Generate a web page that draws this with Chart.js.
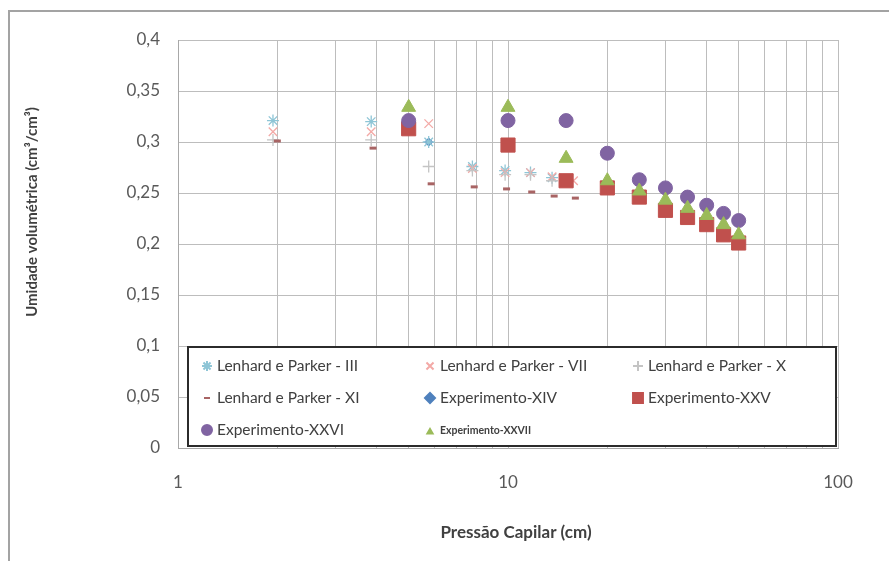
<!DOCTYPE html>
<html>
<head>
<meta charset="utf-8">
<script src="https://cdn.jsdelivr.net/npm/chart.js@4/dist/chart.umd.min.js"></script>
<style>
html,body{margin:0;padding:0;background:#fff;}
#wrap{position:relative;width:889px;height:561px;}
</style>
</head>
<body>
<div id="wrap"><canvas id="c" width="889" height="561"></canvas></div>
<script>
// ---- data ----
const seriesNames = ["Lenhard e Parker - III","Lenhard e Parker - VII","Lenhard e Parker - X","Lenhard e Parker - XI","Experimento-XIV","Experimento-XXV","Experimento-XXVI","Experimento-XXVII"];

const lp3X = [1.94, 3.85, 5.75, 7.8, 9.8, 11.7, 13.6];
const lp3Y = [0.321, 0.320, 0.300, 0.276, 0.272, 0.270, 0.265];

const lp7X = [1.94, 3.85, 5.75, 7.8, 9.8, 11.7, 13.6, 15.8];
const lp7Y = [0.310, 0.310, 0.318, 0.274, 0.270, 0.270, 0.266, 0.262];

const lp10X = [1.94, 3.85, 5.75, 7.8, 9.8, 11.7, 13.6];
const lp10Y = [0.302, 0.302, 0.276, 0.272, 0.268, 0.268, 0.262];

const lp11X = [2.0, 3.9, 5.85, 7.9, 9.9, 11.8, 13.8, 16.0];
const lp11Y = [0.301, 0.294, 0.259, 0.256, 0.254, 0.251, 0.247, 0.245];

const exp14X = [5.75];
const exp14Y = [0.300];

const expX = [5, 10, 15, 20, 25, 30, 35, 40, 45, 50];
const exp25Y = [0.313, 0.297, 0.262, 0.255, 0.246, 0.233, 0.226, 0.219, 0.209, 0.201];
const exp26Y = [0.321, 0.321, 0.321, 0.289, 0.263, 0.255, 0.246, 0.238, 0.230, 0.223];
const exp27Y = [0.334, 0.334, 0.284, 0.262, 0.252, 0.243, 0.235, 0.228, 0.219, 0.209];

const xTickValues = [1,2,3,4,5,6,7,8,9,10,20,30,40,50,60,70,80,90,100];
const xTickLabels = {1:"1", 10:"10", 100:"100"};
const yTickStep = 0.05;

const xTitle = "Pressão Capilar (cm)";
const yTitle = "Umidade volumétrica (cm³/cm³)";

// ---- build ----
function pts(xs, ys){ return xs.map((x,i)=>({x:x, y:ys[i]})); }

const styles = [
  {pointStyle:'star',     radius:6,   color:'#8ec5d6', border:1.3},
  {pointStyle:'crossRot', radius:6,   color:'#f3a9a6', border:1.3},
  {pointStyle:'cross',    radius:6,   color:'#c4c4c4', border:1.3},
  {pointStyle:'line',     radius:3.5, color:'#a86464', border:3},
  {pointStyle:'rectRot',  radius:4,   color:'#4f81bd', border:1},
  {pointStyle:'rect',     radius:10,  color:'#c0504d', border:1},
  {pointStyle:'circle',   radius:7,   color:'#8064a2', border:1},
  {pointStyle:'triangle', radius:8,   color:'#9bbb59', border:1}
];
const drawOrder = [19, 18, 17, 16, 30, 15, 14, 13];
const dataSets = [pts(lp3X,lp3Y), pts(lp7X,lp7Y), pts(lp10X,lp10Y), pts(lp11X,lp11Y), pts(exp14X,exp14Y), pts(expX,exp25Y), pts(expX,exp26Y), pts(expX,exp27Y)];

const datasets = dataSets.map((d,i)=>({
  label: seriesNames[i],
  data: d,
  pointStyle: styles[i].pointStyle,
  pointRadius: styles[i].radius,
  pointHoverRadius: styles[i].radius,
  pointBackgroundColor: styles[i].color,
  pointBorderColor: styles[i].color,
  pointBorderWidth: styles[i].border,
  showLine: false,
  order: drawOrder[i]
}));

const FONT = "Lato, 'Open Sans', sans-serif";

const frame = {
  id:'frame',
  beforeDraw(chart){
    const ctx = chart.ctx;
    ctx.save();
    ctx.fillStyle = '#fff';
    ctx.fillRect(0,0,chart.width,chart.height);
    ctx.strokeStyle = '#a3a3a3';
    ctx.lineWidth = 2;
    ctx.beginPath();
    ctx.moveTo(9, chart.height);
    ctx.lineTo(9, 11);
    ctx.lineTo(chart.width, 11);
    ctx.stroke();
    ctx.restore();
  }
};

const titles = {
  id:'titles',
  afterDraw(chart){
    const ctx = chart.ctx;
    ctx.save();
    ctx.fillStyle = '#404040';
    ctx.textAlign = 'center';
    ctx.textBaseline = 'middle';
    ctx.font = "bold 17px " + FONT;
    ctx.fillText(xTitle, 516, 533);
    ctx.font = "bold 15px " + FONT;
    ctx.translate(32, 212);
    ctx.rotate(-Math.PI/2);
    ctx.fillText(yTitle, 0, 0);
    ctx.restore();
  }
};

const boxLegend = {
  id:'boxLegend',
  afterDraw(chart){
    const ctx = chart.ctx;
    const L = 188, T = 347, R = 836, B = 446;
    ctx.save();
    ctx.fillStyle = '#fff';
    ctx.fillRect(L, T, R-L, B-T);
    ctx.strokeStyle = '#2b2b2b';
    ctx.lineWidth = 2;
    ctx.strokeRect(L, T, R-L, B-T);
    const colMarker = [207, 430, 638];
    const colText = [217, 440, 648];
    const rows = [366, 398, 430];
    chart.data.datasets.forEach((ds,i)=>{
      const c = i % 3, r = Math.floor(i/3);
      const st = styles[i];
      const mr = i === 7 ? 3 : (i === 5 ? 7 : (i === 3 ? 3 : 5));
      ctx.save();
      ctx.fillStyle = st.color;
      ctx.strokeStyle = st.color;
      Chart.helpers.drawPoint(ctx, {pointStyle: st.pointStyle, radius: mr, rotation: 0, borderWidth: st.border}, colMarker[c], rows[r] + (i===7 ? 2 : 0));
      ctx.restore();
      ctx.fillStyle = '#404040';
      ctx.textAlign = 'left';
      ctx.textBaseline = 'middle';
      ctx.font = (i === 7 ? "bold 10.5px " : "15.5px ") + FONT;
      ctx.fillText(ds.label, colText[c], rows[r] + (i===7 ? 1 : 0));
    });
    ctx.restore();
  }
};

new Chart(document.getElementById('c'), {
  type: 'scatter',
  data: { datasets },
  plugins: [frame, titles, boxLegend],
  options: {
    responsive: false,
    animation: false,
    layout: { padding: { left: 0, right: 51, top: 40, bottom: 0 } },
    plugins: { legend: { display: false }, tooltip: { enabled: false } },
    scales: {
      x: {
        type: 'logarithmic',
        min: 1, max: 100,
        afterBuildTicks(scale){ scale.ticks = xTickValues.map(v=>({value:v, major: !!xTickLabels[v]})); },
        afterFit(scale){ scale.height = 561 - 448; },
        grid: { color: '#bdbdbd', lineWidth: 1, drawTicks: false },
        border: { color: '#a8a8a8', width: 1 },
        ticks: {
          autoSkip: false, maxRotation: 0,
          padding: 24,
          color: '#595959',
          font: { family: FONT, size: 17 },
          callback: (v)=> xTickLabels[v] || ''
        }
      },
      y: {
        min: 0, max: 0.4,
        afterFit(scale){ scale.width = 178; },
        grid: { color: '#bdbdbd', lineWidth: 1, drawTicks: false },
        border: { color: '#a8a8a8', width: 1 },
        ticks: {
          stepSize: yTickStep,
          padding: 18,
          color: '#595959',
          font: { family: FONT, size: 17 },
          callback: (v)=> String(Math.round(v*100)/100).replace('.', ',')
        }
      }
    }
  }
});
</script>
</body>
</html>
